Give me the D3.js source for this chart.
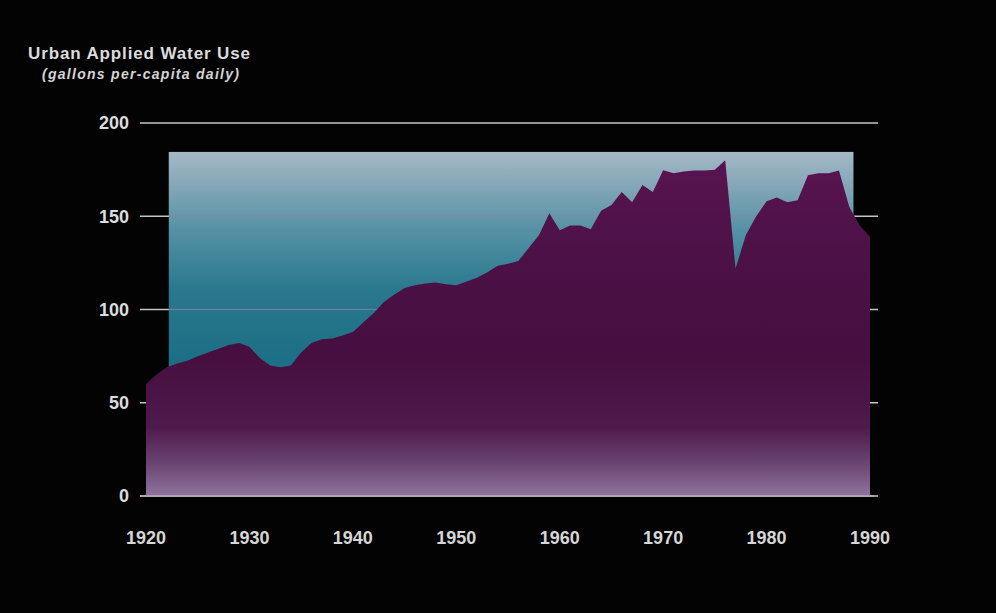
<!DOCTYPE html>
<html>
<head>
<meta charset="utf-8">
<script src="https://cdn.jsdelivr.net/npm/d3@7"></script>
<style>
  html, body { margin: 0; padding: 0; background: #030303; }
  svg { display: block; }
</style>
</head>
<body>
<svg id="chart" width="996" height="613"></svg>
<script>
// ---- data ----
const years = [
  1920,1921,1922,1923,1924,1925,1926,1927,1928,1929,
  1930,1931,1932,1933,1934,1935,1936,1937,1938,1939,
  1940,1941,1942,1943,1944,1945,1946,1947,1948,1949,
  1950,1951,1952,1953,1954,1955,1956,1957,1958,1959,
  1960,1961,1962,1963,1964,1965,1966,1967,1968,1969,
  1970,1971,1972,1973,1974,1975,1976,1977,1978,1979,
  1980,1981,1982,1983,1984,1985,1986,1987,1988,1989,
  1990
];
const gallonsPerCapita = [
  60, 65, 69, 71, 72.5, 75, 77, 79, 81, 82,
  80, 74, 70, 69, 70, 77, 82, 84, 84.5, 86,
  88, 93, 98, 104, 108, 111.5, 113, 114, 114.5, 113.5,
  113, 115, 117, 120, 123.5, 124.5, 126, 133, 140, 151.6,
  142.5, 145, 145, 143, 153, 156, 163, 157.5, 166.7, 163,
  174.7, 173, 174, 174.5, 174.5, 175, 180, 122, 140, 150,
  158, 160, 157.5, 158.6, 172, 173, 173, 174.5, 155, 145,
  139
];
const yTicks = [0, 50, 100, 150, 200];
const xTicks = [1920, 1930, 1940, 1950, 1960, 1970, 1980, 1990];
const titleText = "Urban Applied Water Use";
const subtitleText = "(gallons per-capita daily)";
// shaded backdrop panel extent (in data units)
const panelYears = [1922.2, 1988.4];
const panelTop = 184.5;

// ---- drawing ----
const svg = d3.select("#chart");
const x = d3.scaleLinear().domain([1920, 1990]).range([146, 870]);
const y = d3.scaleLinear().domain([0, 200]).range([496, 123]);
const data = years.map((yr, i) => ({ year: yr, value: gallonsPerCapita[i] }));

svg.append("rect").attr("width", 996).attr("height", 613).attr("fill", "#030303");

const defs = svg.append("defs");
const tealGrad = defs.append("linearGradient").attr("id", "tealGrad")
  .attr("gradientUnits", "userSpaceOnUse")
  .attr("x1", 0).attr("x2", 0).attr("y1", y(panelTop)).attr("y2", y(0));
[["0", "#a4b9c6"], ["0.08", "#8aaaba"], ["0.22", "#5792a7"], ["0.4", "#2a788d"],
 ["0.6", "#1d6f85"], ["0.85", "#1f7287"], ["1", "#25778c"]]
  .forEach(([o, c]) => tealGrad.append("stop").attr("offset", o).attr("stop-color", c));

const areaGrad = defs.append("linearGradient").attr("id", "areaGrad")
  .attr("gradientUnits", "userSpaceOnUse")
  .attr("x1", 0).attr("x2", 0).attr("y1", y(185)).attr("y2", y(0));
[["0", "#5a1452"], ["0.3", "#4c1147"], ["0.6", "#460f40"], ["0.8", "#4e1a4b"],
 ["0.9", "#684270"], ["1", "#8f739d"]]
  .forEach(([o, c]) => areaGrad.append("stop").attr("offset", o).attr("stop-color", c));

// full grid lines (visible where not covered)
svg.append("g").selectAll("line").data(yTicks).join("line")
  .attr("x1", 140).attr("x2", 878)
  .attr("y1", d => y(d)).attr("y2", d => y(d))
  .attr("stroke", "#c4c4c4").attr("stroke-width", 1.6);

// backdrop panel
svg.append("rect")
  .attr("x", x(panelYears[0])).attr("y", y(panelTop))
  .attr("width", x(panelYears[1]) - x(panelYears[0]))
  .attr("height", y(0) - y(panelTop))
  .attr("fill", "url(#tealGrad)");

// faint grid lines across the panel
svg.append("g").selectAll("line").data(yTicks.filter(d => d > 0 && d < panelTop)).join("line")
  .attr("x1", x(panelYears[0])).attr("x2", x(panelYears[1]))
  .attr("y1", d => y(d)).attr("y2", d => y(d))
  .attr("stroke", "#9a7f9a").attr("stroke-opacity", 0.75).attr("stroke-width", 1.2);

// area
const area = d3.area()
  .x(d => x(d.year))
  .y0(y(0))
  .y1(d => y(d.value))
  .curve(d3.curveLinear);
svg.append("path").datum(data).attr("d", area).attr("fill", "url(#areaGrad)");

// baseline
svg.append("line").attr("x1", 140).attr("x2", 874).attr("y1", y(0)).attr("y2", y(0))
  .attr("stroke", "#b8b0bc").attr("stroke-width", 1.6);

// y axis labels
svg.append("g").selectAll("text").data(yTicks).join("text")
  .attr("x", 129).attr("y", d => y(d)).attr("dy", "0.36em")
  .attr("text-anchor", "end")
  .attr("font-family", "Liberation Sans, Arial, sans-serif")
  .attr("font-weight", "bold").attr("font-size", 18)
  .attr("fill", "#dcdcdc")
  .text(d => d);

// x axis labels
svg.append("g").selectAll("text").data(xTicks).join("text")
  .attr("x", d => x(d)).attr("y", 544)
  .attr("text-anchor", "middle")
  .attr("font-family", "Liberation Sans, Arial, sans-serif")
  .attr("font-weight", "bold").attr("font-size", 18)
  .attr("fill", "#d6d6d6")
  .text(d => d);

// titles
svg.append("text").attr("x", 28).attr("y", 59)
  .attr("font-family", "Liberation Sans, Arial, sans-serif")
  .attr("font-weight", "bold").attr("font-size", 17)
  .attr("textLength", 222).attr("lengthAdjust", "spacing")
  .attr("fill", "#dcdcdc")
  .text(titleText);
svg.append("text").attr("x", 42).attr("y", 79)
  .attr("font-family", "Liberation Sans, Arial, sans-serif")
  .attr("font-weight", "bold").attr("font-style", "italic").attr("font-size", 14)
  .attr("textLength", 197).attr("lengthAdjust", "spacing")
  .attr("fill", "#d4d4d4")
  .text(subtitleText);
</script>
</body>
</html>
